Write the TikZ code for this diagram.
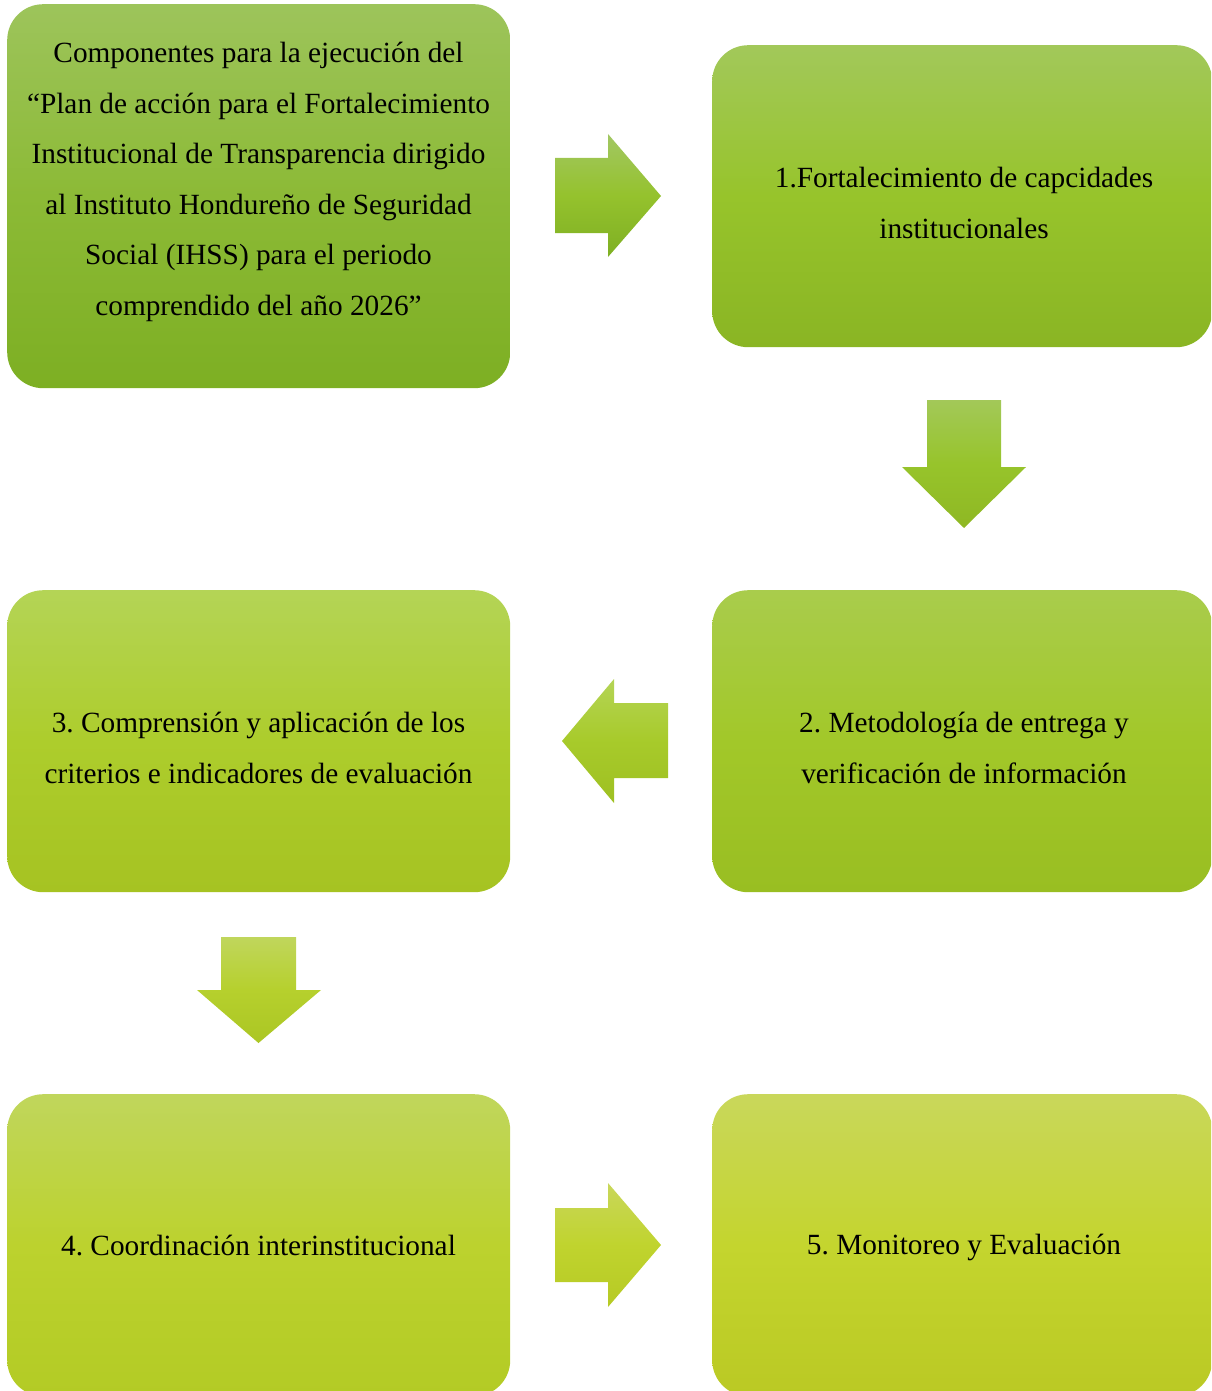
\documentclass[tikz,border=0pt]{standalone}
\usepackage{fontspec}
\setmainfont{Liberation Serif}
\frenchspacing
\begin{document}
\begin{tikzpicture}[x=1pt,y=-1pt]
\tikzset{
  card/.style={rounded corners=36pt, inner sep=0pt, anchor=north west},
  txt/.style={font=\fontsize{29.3}{50.6}\selectfont, align=center, text=black, inner sep=0pt},
}
\definecolor{b0t}{HTML}{9DC45B}\definecolor{b0m}{HTML}{8CBA36}\definecolor{b0b}{HTML}{7DAF23}
\definecolor{b1t}{HTML}{A2C85A}\definecolor{b1m}{HTML}{97C42B}\definecolor{b1b}{HTML}{8AB524}
\definecolor{b2t}{HTML}{A9CC4C}\definecolor{b2m}{HTML}{A2C829}\definecolor{b2b}{HTML}{99BE22}
\definecolor{b3t}{HTML}{B4D456}\definecolor{b3m}{HTML}{ADCD2C}\definecolor{b3b}{HTML}{A6C322}
\definecolor{b4t}{HTML}{C0D65C}\definecolor{b4m}{HTML}{BCD22E}\definecolor{b4b}{HTML}{B3CB25}
\definecolor{b5t}{HTML}{C9D75B}\definecolor{b5m}{HTML}{C4D52E}\definecolor{b5b}{HTML}{BAC924}
\useasboundingbox (0,0) rectangle (1211,1391);
\clip (0,0) rectangle (1211,1391);
% boxes
\node[card, minimum width=503pt, minimum height=384pt, top color=b0t, bottom color=b0b, middle color=b0m] (b0) at (7,4) {};
\node[card, minimum width=500pt, minimum height=302pt, top color=b1t, bottom color=b1b, middle color=b1m] (b1) at (712,45) {};
\node[card, minimum width=500pt, minimum height=302pt, top color=b2t, bottom color=b2b, middle color=b2m] (b2) at (712,590) {};
\node[card, minimum width=503pt, minimum height=302pt, top color=b3t, bottom color=b3b, middle color=b3m] (b3) at (7,590) {};
\node[card, minimum width=503pt, minimum height=302pt, top color=b4t, bottom color=b4b, middle color=b4m] (b4) at (7,1094) {};
\node[card, minimum width=500pt, minimum height=302pt, top color=b5t, bottom color=b5b, middle color=b5m] (b5) at (712,1094) {};
% texts
\node[txt] (t0) at (258.5,182) {Componentes para la ejecución del\\“Plan de acción para el Fortalecimiento\\Institucional de Transparencia dirigido\\al Instituto Hondureño de Seguridad\\Social (IHSS) para el periodo\\comprendido del año 2026”};
\node[txt] (t1) at (964,203) {1.Fortalecimiento de capcidades\\institucionales};
\node[txt] (t2) at (964,748) {2. Metodología de entrega y\\verificación de información};
\node[txt] (t3) at (258.5,748) {3. Comprensión y aplicación de los\\criterios e indicadores de evaluación};
\node[txt] (t4) at (258.5,1246) {4. Coordinación interinstitucional};
\node[txt] (t5) at (964,1247) {5. Monitoreo y Evaluación};
% block arrows
\shade[top color=b0t!95!white, bottom color=b0b!90!b1b, middle color=b1m!80!b0m]
  (555,158) -- (608,158) -- (608,134) -- (661,196) -- (608,257) -- (608,233) -- (555,233) -- cycle;
\shade[top color=b1t!90!b2t, bottom color=b1b!70!b2b, middle color=b1m]
  (927,400) -- (1001,400) -- (1001,467) -- (1026,467) -- (964,528) -- (902,467) -- (927,467) -- cycle;
\shade[top color=b3t, bottom color=b2b!60!b3b, middle color=b2m!50!b3m]
  (668,703) -- (614,703) -- (614,679) -- (562,741) -- (614,803) -- (614,778) -- (668,778) -- cycle;
\shade[top color=b4t, bottom color=b3b!60!b4b, middle color=b3m!40!b4m]
  (221,937) -- (296,937) -- (296,990) -- (321,990) -- (258.5,1043) -- (197,990) -- (221,990) -- cycle;
\shade[top color=b5t, bottom color=b4b!50!b5b, middle color=b4m!50!b5m]
  (555,1208) -- (608,1208) -- (608,1183) -- (661,1245) -- (608,1307) -- (608,1282) -- (555,1282) -- cycle;
\end{tikzpicture}
\end{document}
